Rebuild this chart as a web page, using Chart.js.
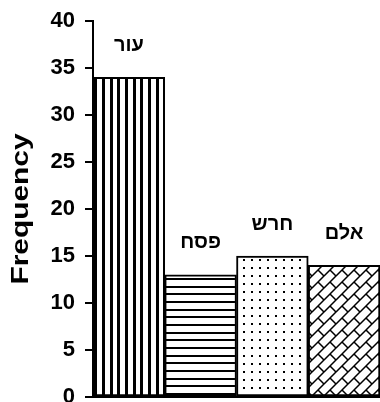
<!DOCTYPE html>
<html>
<head>
<meta charset="utf-8">
<script src="https://cdn.jsdelivr.net/npm/chart.js@4"></script>
<style>
  html, body { margin: 0; padding: 0; background: #fff; }
  #chart { display: block; }
</style>
</head>
<body>
<canvas id="chart" width="380" height="402"></canvas>
<script>
const categories = ["עור", "פסח", "חרש", "אלם"];
const frequency = [34, 13, 15, 14];
const yTicks = [0, 5, 10, 15, 20, 25, 30, 35, 40];
const yTitle = "Frequency";

// small tile canvases turned into fill patterns
function makePattern(w, h, draw, dx, dy) {
  const c = document.createElement("canvas");
  c.width = w; c.height = h;
  const g = c.getContext("2d");
  g.fillStyle = "#fff";
  g.fillRect(0, 0, w, h);
  g.fillStyle = "#000";
  g.strokeStyle = "#000";
  draw(g);
  const p = g.createPattern(c, "repeat");
  if (dx || dy) p.setTransform(new DOMMatrix().translate(dx || 0, dy || 0));
  return p;
}

const ctx = document.getElementById("chart").getContext("2d");

const vertical = makePattern(23, 4, g => {
  g.fillRect(0, 0, 3, 4);
  g.fillRect(8, 0, 3, 4);
  g.fillRect(15, 0, 3, 4);
}, 10, 0);

const horizontal = makePattern(4, 23, g => {
  g.fillRect(0, 0, 4, 2);
  g.fillRect(0, 8, 4, 2);
  g.fillRect(0, 15, 4, 2);
}, 0, 2);

const dots = makePattern(8, 8, g => {
  g.fillRect(3, 3, 2, 2);
});

const hatch = makePattern(12, 12, g => {
  g.lineWidth = 1.5;
  g.beginPath();
  g.moveTo(-1, 13); g.lineTo(13, -1);
  g.moveTo(6, 6); g.lineTo(12.5, 12.5);
  g.moveTo(-0.5, -0.5); g.lineTo(0.5, 0.5);
  g.stroke();
});

const barLabels = {
  id: "barLabels",
  afterDatasetsDraw(chart) {
    const c = chart.ctx;
    const meta = chart.getDatasetMeta(0);
    c.save();
    c.fillStyle = "#000";
    c.font = 'bold 20px "Liberation Sans", Arial, sans-serif';
    c.textAlign = "center";
    c.textBaseline = "middle";
    meta.data.forEach((bar, i) => {
      c.fillText(chart.data.labels[i], bar.x, bar.y - 32);
    });
    c.restore();
  }
};

// wide bold axis title, centred on the y scale
const axisTitle = {
  id: "axisTitle",
  afterDraw(chart) {
    const c = chart.ctx;
    const y = chart.scales.y;
    c.save();
    c.translate(22, (y.top + y.bottom) / 2);
    c.rotate(-Math.PI / 2);
    c.scale(1.3, 1);
    c.fillStyle = "#000";
    c.font = 'bold 23px "Liberation Sans", Arial, sans-serif';
    c.textAlign = "center";
    c.textBaseline = "middle";
    c.fillText(yTitle, 0, 0);
    c.restore();
  }
};

new Chart(ctx, {
  type: "bar",
  data: {
    labels: categories,
    datasets: [{
      data: frequency,
      backgroundColor: [vertical, horizontal, dots, hatch],
      borderColor: "#000",
      borderWidth: 2,
      borderSkipped: false,
      barPercentage: 1,
      categoryPercentage: 1
    }]
  },
  options: {
    responsive: false,
    devicePixelRatio: 1,
    animation: false,
    layout: { padding: { top: 21, right: 0, bottom: 5, left: 0 } },
    plugins: { legend: { display: false }, tooltip: { enabled: false } },
    scales: {
      x: {
        afterFit: scale => { scale.height = 0; },
        ticks: { display: false },
        grid: { display: false, drawTicks: false },
        border: { display: true, color: "#000", width: 2 }
      },
      y: {
        min: 0,
        max: 40,
        afterBuildTicks: scale => { scale.ticks = yTicks.map(v => ({ value: v })); },
        afterFit: scale => {
          scale.width = 93;
          scale.paddingTop = 0;
          scale.paddingBottom = 0;
        },
        ticks: {
          color: "#000",
          padding: 10,
          font: { family: '"Liberation Sans", Arial, sans-serif', size: 22, weight: "bold" }
        },
        grid: { drawOnChartArea: false, drawTicks: true, tickLength: 8, color: "#000", lineWidth: 2 },
        border: { display: true, color: "#000", width: 2 },
        title: { display: false }
      }
    }
  },
  plugins: [barLabels, axisTitle]
});
</script>
</body>
</html>
